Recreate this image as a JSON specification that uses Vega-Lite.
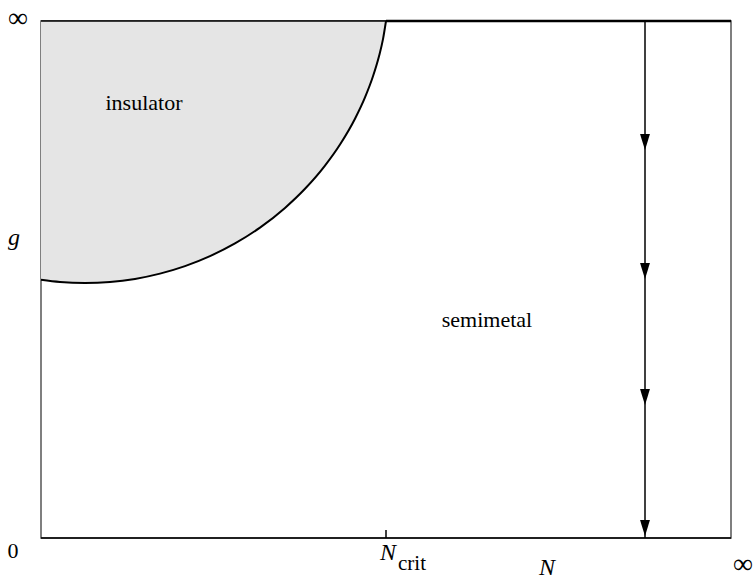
{
  "$schema": "https://vega.github.io/schema/vega-lite/v6.json",
  "width": 690,
  "height": 517,
  "autosize": {"type": "none"},
  "padding": {"left": 41, "top": 21, "right": 22, "bottom": 46},
  "background": "white",
  "config": {"view": {"stroke": "#555", "strokeWidth": 1.5}, "font": "'Liberation Serif', 'DejaVu Serif', 'Times New Roman', serif"},
  "datasets": {
    "boundary": [
      {"N": 0, "g": 258.2}, {"N": 19, "g": 256}, {"N": 44, "g": 255}, {"N": 69, "g": 256},
      {"N": 94, "g": 259.1}, {"N": 119, "g": 264.4}, {"N": 144, "g": 271.9}, {"N": 169, "g": 281.9},
      {"N": 194, "g": 294.6}, {"N": 219, "g": 310.4}, {"N": 244, "g": 330.1}, {"N": 264, "g": 349.2},
      {"N": 284, "g": 372.4}, {"N": 299, "g": 393.5}, {"N": 314, "g": 419.3}, {"N": 324, "g": 440.6},
      {"N": 332, "g": 461.7}, {"N": 338, "g": 481.7}, {"N": 342, "g": 498.9}, {"N": 345, "g": 517}
    ],
    "arrows": [{"N": 604, "g": 396}, {"N": 604, "g": 267}, {"N": 604, "g": 141}, {"N": 604, "g": 10}]
  },
  "encoding": {
    "x": {"field": "N", "type": "quantitative", "scale": {"domain": [0, 690], "nice": false, "zero": false}, "axis": null},
    "y": {"field": "g", "type": "quantitative", "scale": {"domain": [0, 517], "nice": false, "zero": false}, "axis": null}
  },
  "layer": [
    {
      "data": {"name": "boundary"},
      "mark": {"type": "area", "color": "#e5e5e5", "clip": true, "interpolate": "monotone"},
      "encoding": {"y2": {"datum": 517}}
    },
    {
      "data": {"name": "boundary"},
      "mark": {"type": "line", "color": "black", "strokeWidth": 2, "interpolate": "monotone"},
      "encoding": {}
    },
    {
      "data": {"values": [{"N": 0, "g": 517, "N2": 690}, {"N": 0, "g": 0, "N2": 690}]},
      "mark": {"type": "rule", "color": "black", "strokeWidth": 1.5},
      "encoding": {"x2": {"field": "N2"}}
    },
    {
      "data": {"values": [{"N": 345, "g": 517, "N2": 690}]},
      "mark": {"type": "rule", "color": "black", "strokeWidth": 2.5},
      "encoding": {"x2": {"field": "N2"}}
    },
    {
      "data": {"values": [{"N": 604, "g": 517, "g2": 0}, {"N": 345, "g": 0, "g2": 8}]},
      "mark": {"type": "rule", "color": "black", "strokeWidth": 1.5},
      "encoding": {"y2": {"field": "g2"}}
    },
    {
      "data": {"name": "arrows"},
      "mark": {"type": "point", "shape": "M -0.62 -1 L 0.62 -1 L 0 1 Z", "filled": true, "color": "black", "opacity": 1, "size": 256, "strokeWidth": 0},
      "encoding": {}
    },
    {
      "data": {"values": [
        {"N": 103, "g": 435, "label": "insulator"},
        {"N": 446, "g": 218, "label": "semimetal"},
        {"N": -28, "g": -13, "label": "0"}
      ]},
      "mark": {"type": "text", "fontSize": 22, "color": "black", "font": "'Liberation Serif', 'DejaVu Serif', 'Times New Roman', serif", "baseline": "middle", "align": "center"},
      "encoding": {"text": {"field": "label"}}
    },
    {
      "data": {"values": [
        {"N": -23, "g": 519, "label": "∞"},
        {"N": 702, "g": -27, "label": "∞"}
      ]},
      "mark": {"type": "text", "fontSize": 28, "color": "black", "font": "'Liberation Serif', 'DejaVu Serif', 'Times New Roman', serif", "baseline": "middle", "align": "center"},
      "encoding": {"text": {"field": "label"}}
    },
    {
      "data": {"values": [
        {"N": -27, "g": 300, "label": "g"},
        {"N": 347, "g": -15, "label": "N"},
        {"N": 506, "g": -30, "label": "N"}
      ]},
      "mark": {"type": "text", "fontSize": 24, "fontStyle": "italic", "color": "black", "font": "'Liberation Serif', 'DejaVu Serif', 'Times New Roman', serif", "baseline": "middle", "align": "center"},
      "encoding": {"text": {"field": "label"}}
    },
    {
      "data": {"values": [{"N": 371, "g": -26, "label": "crit"}]},
      "mark": {"type": "text", "fontSize": 21, "color": "black", "font": "'Liberation Serif', 'DejaVu Serif', 'Times New Roman', serif", "baseline": "middle", "align": "center"},
      "encoding": {"text": {"field": "label"}}
    }
  ]
}
